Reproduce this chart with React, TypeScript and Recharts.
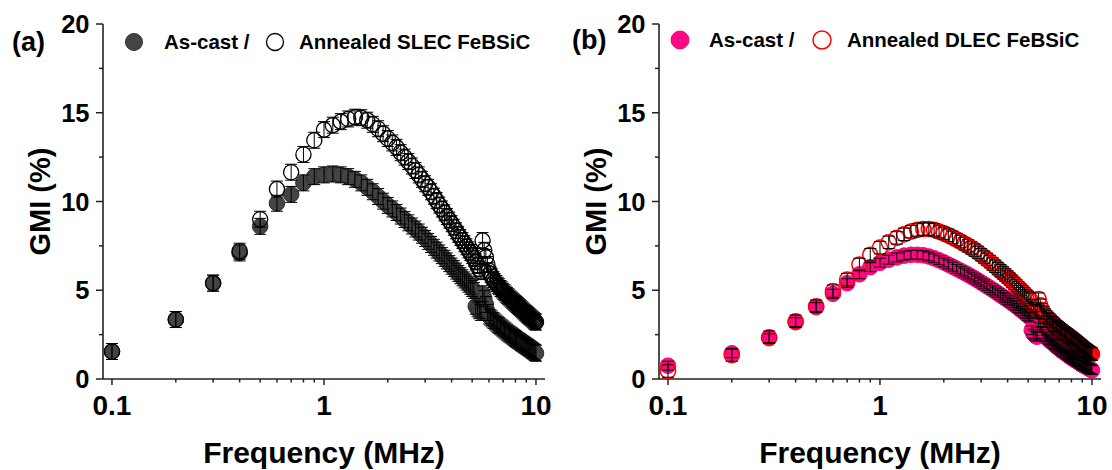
import React from "react";
import { ScatterChart, Scatter, XAxis, YAxis, ErrorBar, Legend } from "recharts";

// frequency in MHz (0.1 to 10, step 0.1)
const FREQ = [
  0.1, 0.2, 0.3, 0.4, 0.5, 0.6, 0.7, 0.8, 0.9, 1.0,
  1.1, 1.2, 1.3, 1.4, 1.5, 1.6, 1.7, 1.8, 1.9, 2.0,
  2.1, 2.2, 2.3, 2.4, 2.5, 2.6, 2.7, 2.8, 2.9, 3.0,
  3.1, 3.2, 3.3, 3.4, 3.5, 3.6, 3.7, 3.8, 3.9, 4.0,
  4.1, 4.2, 4.3, 4.4, 4.5, 4.6, 4.7, 4.8, 4.9, 5.0,
  5.1, 5.2, 5.3, 5.4, 5.5, 5.6, 5.7, 5.8, 5.9, 6.0,
  6.1, 6.2, 6.3, 6.4, 6.5, 6.6, 6.7, 6.8, 6.9, 7.0,
  7.1, 7.2, 7.3, 7.4, 7.5, 7.6, 7.7, 7.8, 7.9, 8.0,
  8.1, 8.2, 8.3, 8.4, 8.5, 8.6, 8.7, 8.8, 8.9, 9.0,
  9.1, 9.2, 9.3, 9.4, 9.5, 9.6, 9.7, 9.8, 9.9, 10.0,
];

// (a) SLEC FeBSiC, GMI %
const AS_CAST_A = [
  1.55, 3.35, 5.4, 7.1, 8.6, 9.9, 10.4, 11.05, 11.4, 11.5,
  11.55, 11.5, 11.4, 11.25, 11.05, 10.8, 10.55, 10.28, 10.02, 9.78,
  9.58, 9.38, 9.18, 8.98, 8.8, 8.62, 8.45, 8.28, 8.1, 7.92,
  7.75, 7.58, 7.42, 7.26, 7.1, 6.95, 6.8, 6.65, 6.5, 6.36,
  6.22, 6.08, 5.95, 5.82, 5.7, 5.58, 5.46, 5.34, 5.22, 5.1,
  4.98, 4.1, 3.95, 3.85, 3.75, 4.8, 4.55, 4.2, 3.75, 3.55,
  3.45, 3.38, 3.3, 3.22, 3.15, 3.08, 3.01, 2.94, 2.88, 2.82,
  2.76, 2.7, 2.64, 2.58, 2.53, 2.48, 2.43, 2.38, 2.33, 2.28,
  2.23, 2.18, 2.14, 2.1, 2.05, 2.01, 1.97, 1.93, 1.89, 1.85,
  1.81, 1.77, 1.73, 1.69, 1.65, 1.61, 1.57, 1.53, 1.49, 1.45,
];
const ANNEALED_A = [
  1.55, 3.35, 5.4, 7.2, 9.0, 10.7, 11.65, 12.65, 13.45, 14.05,
  14.3, 14.5, 14.65, 14.75, 14.72, 14.58, 14.35, 14.1, 13.82, 13.55,
  13.3, 13.05, 12.75, 12.5, 12.25, 12.0, 11.75, 11.5, 11.25, 11.0,
  10.8, 10.55, 10.3, 10.05, 9.8, 9.58, 9.36, 9.15, 8.95, 8.75,
  8.55, 8.35, 8.15, 7.97, 7.8, 7.62, 7.45, 7.28, 7.12, 6.96,
  6.8, 6.6, 6.4, 6.2, 6.05, 7.8, 7.25, 6.85, 6.45, 6.1,
  5.9, 5.75, 5.6, 5.48, 5.38, 5.28, 5.2, 5.1, 5.02, 4.94,
  4.86, 4.78, 4.71, 4.64, 4.57, 4.5, 4.44, 4.38, 4.32, 4.26,
  4.2, 4.14, 4.08, 4.02, 3.96, 3.9, 3.84, 3.78, 3.73, 3.68,
  3.63, 3.58, 3.53, 3.48, 3.43, 3.38, 3.33, 3.28, 3.24, 3.2,
];

// (b) DLEC FeBSiC, GMI %
const AS_CAST_B = [
  0.75, 1.45, 2.3, 3.2, 4.05, 4.8, 5.4, 5.9, 6.3, 6.55,
  6.72, 6.85, 6.95, 7.0, 7.0, 6.97, 6.9, 6.8, 6.69, 6.57,
  6.45, 6.33, 6.21, 6.1, 5.99, 5.88, 5.77, 5.66, 5.55, 5.44,
  5.33, 5.23, 5.13, 5.03, 4.93, 4.83, 4.73, 4.64, 4.55, 4.46,
  4.37, 4.28, 4.19, 4.1, 4.01, 3.92, 3.83, 3.74, 3.65, 3.56,
  3.47, 2.75, 2.55, 2.45, 2.38, 3.15, 2.9, 2.7, 2.55, 2.44,
  2.35, 2.27, 2.19, 2.12, 2.05, 1.98, 1.91, 1.84, 1.78, 1.72,
  1.66, 1.6, 1.55, 1.5, 1.45, 1.4, 1.35, 1.3, 1.25, 1.2,
  1.16, 1.12, 1.08, 1.04, 1.0, 0.96, 0.92, 0.88, 0.84, 0.8,
  0.77, 0.74, 0.71, 0.68, 0.65, 0.62, 0.59, 0.56, 0.53, 0.5,
];
const ANNEALED_B = [
  0.45, 1.35, 2.35, 3.25, 4.1, 4.95, 5.6, 6.45, 7.0, 7.4,
  7.7, 7.95, 8.15, 8.3, 8.4, 8.45, 8.45, 8.4, 8.3, 8.2,
  8.1, 7.98, 7.86, 7.74, 7.62, 7.5, 7.38, 7.26, 7.13, 7.0,
  6.87, 6.74, 6.61, 6.48, 6.35, 6.22, 6.1, 5.98, 5.86, 5.74,
  5.62, 5.5, 5.38, 5.26, 5.14, 5.03, 4.92, 4.81, 4.7, 4.6,
  4.5, 4.1, 3.95, 3.85, 3.78, 4.5, 4.15, 3.9, 3.72, 3.6,
  3.5, 3.41, 3.33, 3.25, 3.17, 3.09, 3.02, 2.95, 2.89, 2.83,
  2.77, 2.71, 2.65, 2.6, 2.55, 2.5, 2.45, 2.4, 2.35, 2.3,
  2.25, 2.2, 2.15, 2.1, 2.05, 2.0, 1.95, 1.9, 1.85, 1.8,
  1.75, 1.7, 1.66, 1.62, 1.58, 1.54, 1.5, 1.46, 1.43, 1.4,
];

// error bar half-heights
const ERR_AS_CAST_A = 0.45;
const ERR_ANNEALED_A = 0.45;
const ERR_AS_CAST_B = 0.25;
const ERR_ANNEALED_B = 0.35;

const X_TICKS = [0.1, 0.2, 0.3, 0.4, 0.5, 0.6, 0.7, 0.8, 0.9, 1, 2, 3, 4, 5, 6, 7, 8, 9, 10];
const X_MAJOR = [0.1, 1, 10];
const Y_TICKS = [0, 2.5, 5, 7.5, 10, 12.5, 15, 17.5, 20];
const X_DOMAIN = [0.0907, 11.03];
const Y_DOMAIN = [0, 20];

const FONT = '"Liberation Sans", Arial, sans-serif';
const AXIS = "#222";
const W = 556;
const H = 470;
const MARGIN = { top: 24, right: 11, bottom: 0, left: 0 };

const toRows = (vals: number[], err: number) =>
  FREQ.map((f, i) => ({ f, v: vals[i], err }));

function XTick(props: any) {
  const { x, y, payload } = props;
  const major = X_MAJOR.includes(payload.value);
  return (
    <g>
      <line x1={x} x2={x} y1={y} y2={y + (major ? 6 : 3.5)} stroke={AXIS} strokeWidth={1.5} />
      {major && (
        <text x={x} y={y + 36} textAnchor="middle" fontSize={28} fontWeight="bold" fontFamily={FONT} fill="#000">
          {payload.value}
        </text>
      )}
    </g>
  );
}

function YTick(props: any) {
  const { x, y, payload } = props;
  const major = payload.value % 5 === 0;
  return (
    <g>
      <line x1={x - (major ? 7 : 4)} x2={x} y1={y} y2={y} stroke={AXIS} strokeWidth={1.5} />
      {major && (
        <text x={x - 13.5} y={y + 9} textAnchor="end" fontSize={25.5} fontWeight="bold" fontFamily={FONT} fill="#000">
          {payload.value}
        </text>
      )}
    </g>
  );
}

const xLabel = (props: any) => {
  const vb = props.viewBox;
  return (
    <text x={vb.x + vb.width / 2} y={vb.y + 84} textAnchor="middle" fontSize={30} fontWeight="bold" fontFamily={FONT} fill="#000">
      Frequency (MHz)
    </text>
  );
};

const yLabel = (props: any) => {
  const vb = props.viewBox;
  const cx = vb.x + 40;
  const cy = vb.y + vb.height / 2;
  return (
    <text x={cx} y={cy} transform={`rotate(-90 ${cx} ${cy})`} textAnchor="middle" dominantBaseline="central"
      fontSize={29} fontWeight="bold" fontFamily={FONT} fill="#000">
      GMI (%)
    </text>
  );
};

interface PanelProps {
  tag: string;
  name: string;
  asCast: number[];
  annealed: number[];
  errAsCast: number;
  errAnnealed: number;
  fill: string;
  fillEdge: string;
  ring: string;
  ringWidth: number;
  legend: { tagX: number; tagY: number; m1: number; t1: number; m2: number; t2: number; my: number; ty: number; r: number };
}

function Panel(p: PanelProps) {
  const asCastRows = toRows(p.asCast, p.errAsCast);
  const annealedRows = toRows(p.annealed, p.errAnnealed);
  const L = p.legend;

  const legendContent = () => (
    <svg width={W} height={60} style={{ display: "block" }}>
      <text x={L.tagX} y={L.tagY} fontSize={27} fontWeight="bold" fontFamily={FONT} fill="#000">{p.tag}</text>
      <circle cx={L.m1} cy={L.my} r={L.r} fill={p.fill} stroke={p.fillEdge} strokeWidth={1} />
      <text x={L.t1} y={L.ty} fontSize={20.5} fontWeight="bold" fontFamily={FONT} fill="#000">As-cast /</text>
      <circle cx={L.m2} cy={L.my} r={L.r} fill="none" stroke={p.ring} strokeWidth={p.ringWidth} />
      <text x={L.t2} y={L.ty} fontSize={20.5} fontWeight="bold" fontFamily={FONT} fill="#000">{`Annealed ${p.name} FeBSiC`}</text>
    </svg>
  );

  return (
    <div style={{ position: "relative", width: W, height: H }}>
      {/* markers and axes */}
      <div style={{ position: "absolute", left: 0, top: 0 }}>
        <ScatterChart width={W} height={H} margin={MARGIN}>
          <XAxis
            dataKey="f"
            type="number"
            scale="log"
            domain={X_DOMAIN}
            allowDataOverflow
            ticks={X_TICKS}
            interval={0}
            tick={<XTick />}
            tickLine={false}
            tickSize={0}
            tickMargin={0}
            height={91}
            axisLine={{ stroke: AXIS, strokeWidth: 1.6 }}
            label={{ content: xLabel }}
          />
          <YAxis
            dataKey="v"
            type="number"
            domain={Y_DOMAIN}
            allowDataOverflow
            ticks={Y_TICKS}
            interval={0}
            tick={<YTick />}
            tickLine={false}
            tickSize={0}
            tickMargin={0}
            width={103}
            axisLine={{ stroke: AXIS, strokeWidth: 1.6 }}
            label={{ content: yLabel }}
          />
          <XAxis xAxisId="top" orientation="top" type="number" domain={[0, 1]} tick={false} tickLine={false}
            height={0} axisLine={{ stroke: AXIS, strokeWidth: 1.6 }} />
          <YAxis yAxisId="right" orientation="right" type="number" domain={[0, 1]} tick={false} tickLine={false}
            width={0} axisLine={{ stroke: AXIS, strokeWidth: 1.6 }} />
          <Legend layout="horizontal" verticalAlign="middle" content={legendContent}
            wrapperStyle={{ position: "absolute", left: 0, top: 0, width: W, height: 60 }} />

          <Scatter
            data={asCastRows}
            dataKey="v"
            isAnimationActive={false}
            shape={(s: any) => <circle cx={s.cx} cy={s.cy} r={7.8} fill={p.fill} stroke={p.fillEdge} strokeWidth={1} />}
          />
          <Scatter
            data={annealedRows}
            dataKey="v"
            isAnimationActive={false}
            shape={(s: any) => <circle cx={s.cx} cy={s.cy} r={7.6} fill="none" stroke={p.ring} strokeWidth={p.ringWidth} />}
          />
        </ScatterChart>
      </div>

      {/* error bars, laid over the markers */}
      <div style={{ position: "absolute", left: 0, top: 0, pointerEvents: "none" }}>
        <ScatterChart width={W} height={H} margin={{ top: 24, right: 11, bottom: 91, left: 103 }}>
          <XAxis dataKey="f" type="number" scale="log" domain={X_DOMAIN} allowDataOverflow hide />
          <YAxis dataKey="v" type="number" domain={Y_DOMAIN} allowDataOverflow hide />
          <Scatter data={asCastRows} dataKey="v" isAnimationActive={false} shape={() => <g />}>
            <ErrorBar dataKey="err" direction="y" width={6} stroke="#000" strokeWidth={1} />
          </Scatter>
          <Scatter data={annealedRows} dataKey="v" isAnimationActive={false} shape={() => <g />}>
            <ErrorBar dataKey="err" direction="y" width={6} stroke="#000" strokeWidth={1} />
          </Scatter>
        </ScatterChart>
      </div>
    </div>
  );
}

export default function App() {
  return (
    <div style={{ position: "absolute", left: 0, top: 0, width: 1112, height: 470, background: "#fff", display: "flex" }}>
      <Panel
        tag="(a)"
        name="SLEC"
        asCast={AS_CAST_A}
        annealed={ANNEALED_A}
        errAsCast={ERR_AS_CAST_A}
        errAnnealed={ERR_ANNEALED_A}
        fill="#444444"
        fillEdge="#2e2e2e"
        ring="#000"
        ringWidth={1.3}
        legend={{ tagX: 12, tagY: 51, m1: 134, t1: 164, m2: 275, t2: 299, my: 42, ty: 49, r: 8.5 }}
      />
      <Panel
        tag="(b)"
        name="DLEC"
        asCast={AS_CAST_B}
        annealed={ANNEALED_B}
        errAsCast={ERR_AS_CAST_B}
        errAnnealed={ERR_ANNEALED_B}
        fill="#ff0a84"
        fillEdge="#f0067a"
        ring="#ff0000"
        ringWidth={1.5}
        legend={{ tagX: 16, tagY: 49, m1: 124, t1: 153, m2: 266, t2: 291, my: 40, ty: 47, r: 9 }}
      />
    </div>
  );
}
